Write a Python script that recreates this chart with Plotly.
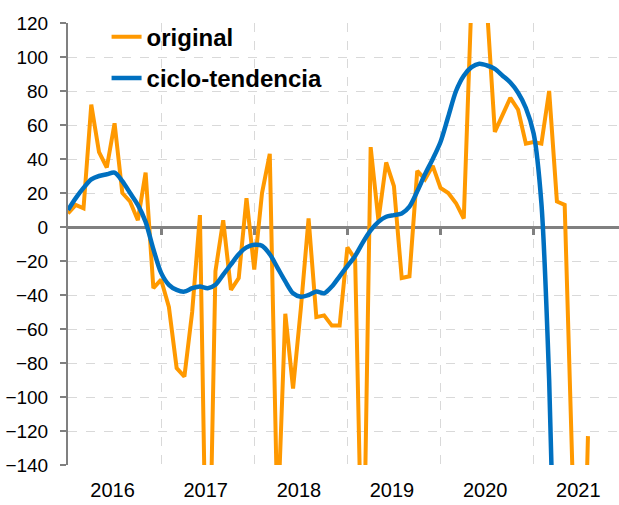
import plotly.graph_objects as go

# ---- data (monthly, January 2016 onwards) ----
years = [2016, 2017, 2018, 2019, 2020, 2021]
year_labels = ["2016", "2017", "2018", "2019", "2020", "2021"]
months = [f"{y}-{m:02d}" for y in years for m in range(1, 13)]  # category axis

original = [
    # 2016
    8, 13, 11, 72, 44, 35, 61, 20, 15, 4, 32, -36,
    # 2017
    -31, -47, -83, -88, -50, 7, -260, -26, 4, -37, -30, 17,
    # 2018
    -25, 20, 43, -175, -51, -95, -48, 5, -53, -52, -58, -58,
    # 2019
    -12, -19, -230, 47, 4, 38, 24, -30, -29, 33, 28, 36,
    # 2020
    23, 20, 14, 5, 135, 160, 128, 56, 66, 76, 69, 49,
    # 2021
    50, 49, 80, 15, 13, -145, -300, -123,
]

ciclo_tendencia = [
    # 2016
    10, 17, 23, 28, 30, 31, 32, 27, 20, 13, 3, -13,
    # 2017
    -27, -34, -37, -38, -36, -35, -36, -34, -28, -22, -16, -12,
    # 2018
    -10.5, -11, -16, -24, -32, -39, -41, -40, -38, -39, -35, -29,
    # 2019
    -23, -17, -9, -2, 3, 6, 7, 8, 12, 21, 31, 40,
    # 2020
    50, 65, 80, 89, 94, 96, 95, 93, 89, 85, 79, 70,
    # 2021
    55, 14, -90, -260,
]

x_orig = list(range(len(original)))
x_trend = list(range(len(ciclo_tendencia)))
year_start_idx = [months.index(f"{y}-01") for y in years]
year_mid_idx = [i + 5.75 for i in year_start_idx]

ORANGE = "#FF9900"
BLUE = "#0070C0"
GRID = "#d9d9d9"
AXIS = "#808080"
FONT = "Liberation Sans, Arial, sans-serif"

fig = go.Figure()
fig.add_trace(go.Scatter(
    x=x_orig, y=original, mode="lines", name="original",
    line=dict(color=ORANGE, width=4), legendgroup="a",
    xaxis="x", yaxis="y",
))
fig.add_trace(go.Scatter(
    x=x_trend, y=ciclo_tendencia, mode="lines", name="ciclo-tendencia",
    line=dict(color=BLUE, width=4.5, shape="spline", smoothing=0.8),
    legendgroup="b", xaxis="x2", yaxis="y",
))

xr = [0, len(months) - 1]

fig.update_layout(
    width=619, height=505,
    margin=dict(l=68, r=0, t=23, b=40),
    paper_bgcolor="white", plot_bgcolor="white",
    font=dict(family=FONT, size=18, color="black"),
    showlegend=True,
    legend=dict(
        x=0.07, y=1.019, xanchor="left", yanchor="top",
        bgcolor="rgba(0,0,0,0)",
        font=dict(family=FONT, size=24, color="black", weight="bold"),
        traceorder="grouped", tracegroupgap=7,
    ),
    xaxis=dict(
        range=xr, tickmode="array", tickvals=year_mid_idx, ticktext=year_labels,
        ticks="outside", ticklen=7, tickcolor="rgba(0,0,0,0)",
        showgrid=False, zeroline=False, showline=False,
        tickfont=dict(family=FONT, size=20, color="black"),
        minor=dict(tickmode="array", tickvals=year_start_idx, showgrid=True,
                   gridcolor=GRID, griddash="dash", gridwidth=1, ticks=""),
        layer="below traces",
    ),
    xaxis2=dict(
        range=xr, overlaying="x", anchor="free", position=140 / 260,
        showline=True, linecolor=AXIS, linewidth=3,
        tickmode="array", tickvals=year_start_idx[1:],
        ticks="outside", ticklen=6, tickwidth=3, tickcolor=AXIS,
        showticklabels=False, showgrid=False, zeroline=False,
        layer="below traces",
    ),
    yaxis=dict(
        range=[-140, 120], tick0=0, dtick=20,
        showgrid=True, gridcolor=GRID, griddash="dash", gridwidth=1,
        showline=True, linecolor=AXIS, linewidth=2,
        ticks="outside", ticklen=6, tickwidth=2, tickcolor=AXIS,
        zeroline=False,
        tickfont=dict(family=FONT, size=19, color="black"),
        ticklabelstandoff=8,
        layer="below traces",
    ),
)

fig.write_html(
    "out.html",
    config={"displayModeBar": False},
    post_script="document.body.style.margin='0';",
)
